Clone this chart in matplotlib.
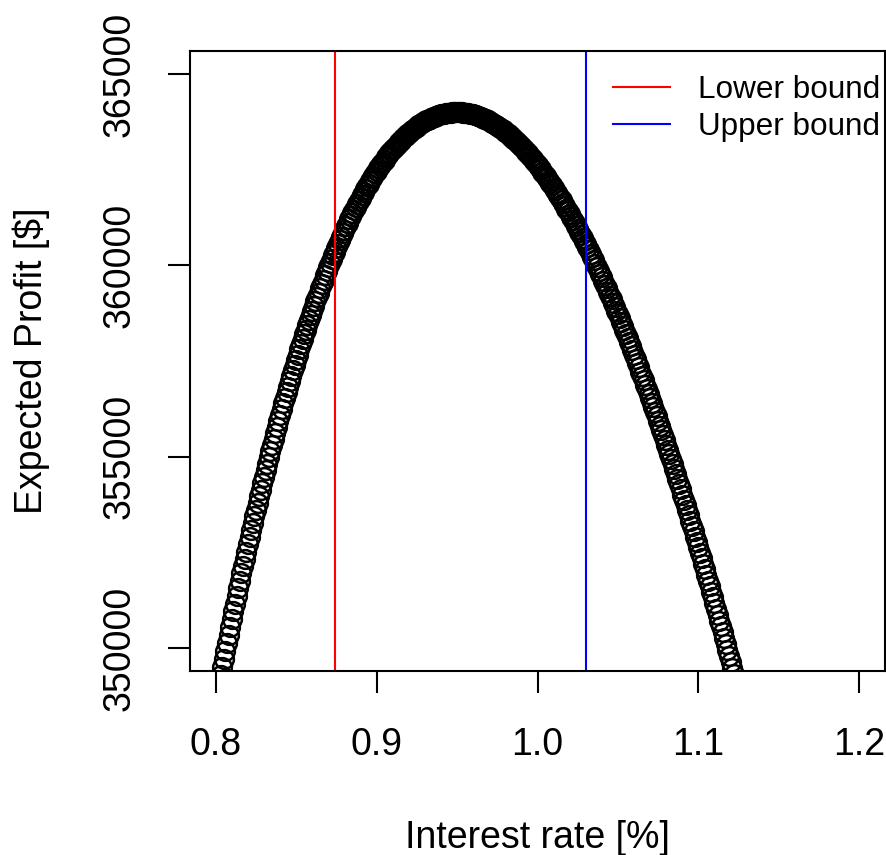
import numpy as np
import matplotlib
matplotlib.use('Agg')
from matplotlib import pyplot as plt

plt.rcParams['font.family'] = ['Liberation Sans', 'DejaVu Sans']

# interest rate grid, 0.803 .. 1.123 in steps of 0.001 (points below 349k are off the axes)
rate = np.arange(803, 1124) / 1000

profit = [
    349286, 349502, 349716, 349928, 350138, 350346, 350552, 350757, 350960, 351161,
    351360, 351558, 351754, 351948, 352140, 352331, 352519, 352706, 352892, 353075,
    353257, 353437, 353616, 353792, 353967, 354141, 354312, 354482, 354650, 354817,
    354982, 355145, 355306, 355466, 355624, 355781, 355936, 356089,
    356241, 356391, 356539, 356686, 356831, 356975, 357117, 357257, 357396, 357533,
    357668, 357802, 357935, 358066, 358195, 358323, 358449, 358573, 358696, 358818,
    358938, 359056, 359173, 359289, 359403, 359515, 359626, 359735, 359843, 359949,
    360054, 360158, 360260, 360360, 360459, 360556, 360652, 360747, 360840, 360932,
    361022, 361111, 361198, 361284, 361369, 361452, 361533, 361613, 361692, 361770,
    361846, 361920, 361994, 362065, 362136, 362205, 362273, 362339, 362404, 362468,
    362530, 362591, 362650, 362708, 362765, 362821, 362875, 362928, 362979, 363029,
    363078, 363126, 363172, 363217, 363261, 363303, 363344, 363384, 363423, 363460,
    363496, 363530, 363564, 363596, 363627, 363656, 363685, 363712, 363738, 363762,
    363786, 363808, 363829, 363849, 363867, 363884, 363900, 363915, 363929, 363941,
    363952, 363962, 363971, 363979, 363985, 363991, 363995, 363998, 363999, 364000,
    363999, 363998, 363995, 363991, 363986, 363979, 363972, 363963, 363953, 363942,
    363930, 363917, 363903, 363888, 363871, 363853, 363835, 363815, 363794, 363772,
    363749, 363724, 363699, 363673, 363645, 363617, 363587, 363556, 363525, 363492,
    363458, 363423, 363387, 363350, 363312, 363272, 363232, 363191, 363149, 363105,
    363061, 363016, 362969, 362922, 362873,
    362824, 362773, 362722, 362669, 362616, 362561, 362506, 362449, 362392, 362333,
    362274, 362213, 362152, 362089, 362026, 361961, 361896, 361830, 361762, 361694,
    361625, 361555, 361484, 361411, 361338, 361264, 361189, 361114, 361037, 360959,
    360880, 360801, 360720, 360639, 360556, 360473, 360389, 360304, 360218, 360131,
    360043, 359954, 359864, 359774, 359682, 359590, 359496, 359402, 359307, 359211,
    359114, 359017, 358918, 358819, 358718, 358617, 358515, 358412, 358308, 358203,
    358098, 357991, 357884, 357776, 357667, 357557, 357446, 357335, 357222, 357109,
    356995, 356880, 356764, 356648, 356530, 356412, 356293, 356173, 356052, 355931,
    355808, 355685, 355561, 355436, 355311, 355184, 355057, 354929, 354800, 354670,
    354540, 354408, 354276, 354143, 354010, 353875, 353740, 353604, 353467, 353329,
    353191, 353052, 352912, 352771, 352629, 352487, 352344, 352200, 352055, 351910,
    351764, 351617, 351469, 351321, 351171, 351021, 350871, 350719, 350567, 350414,
    350260, 350105, 349950, 349794, 349637, 349479, 349321, 349162,
]

lower_bound = 0.874
upper_bound = 1.030

xticks = [0.8, 0.9, 1.0, 1.1, 1.2]
xtick_labels = ['0.8', '0.9', '1.0', '1.1', '1.2']
yticks = [350000, 355000, 360000, 365000]
ytick_labels = ['350000', '355000', '360000', '365000']

fig = plt.figure(figsize=(8.86, 8.55), dpi=100)
ax = fig.add_axes([190 / 886, 1 - 671 / 855, 695 / 886, 620 / 855])

ax.plot(rate, profit, 'o', ms=13.5, mfc='none', mec='black', mew=1.8)
ax.axvline(lower_bound, color='red', lw=1.5, label='Lower bound')
ax.axvline(upper_bound, color='blue', lw=1.5, label='Upper bound')

ax.set_xlim(0.784, 1.216)
ax.set_ylim(349400, 365600)
ax.set_xticks(xticks)
ax.set_xticklabels(xtick_labels)
ax.set_yticks(yticks)
ax.set_yticklabels(ytick_labels, rotation=90, va='center')
ax.tick_params(length=16, width=1.5, labelsize=27)
ax.tick_params(axis='x', pad=24)
ax.tick_params(axis='y', pad=22)
for s in ax.spines.values():
    s.set_linewidth(1.5)

ax.set_xlabel('Interest rate [%]', fontsize=27, labelpad=41)
ax.set_ylabel('Expected Profit [$]', fontsize=27, labelpad=37)

ax.legend(loc='upper left', bbox_to_anchor=(613 / 886, 1 - 75 / 855),
          bbox_transform=fig.transFigure, frameon=False, fontsize=22.7,
          handlelength=1.81, handletextpad=0.88, labelspacing=0.23,
          borderpad=0, borderaxespad=0)

fig.savefig('out.png', dpi=100)
